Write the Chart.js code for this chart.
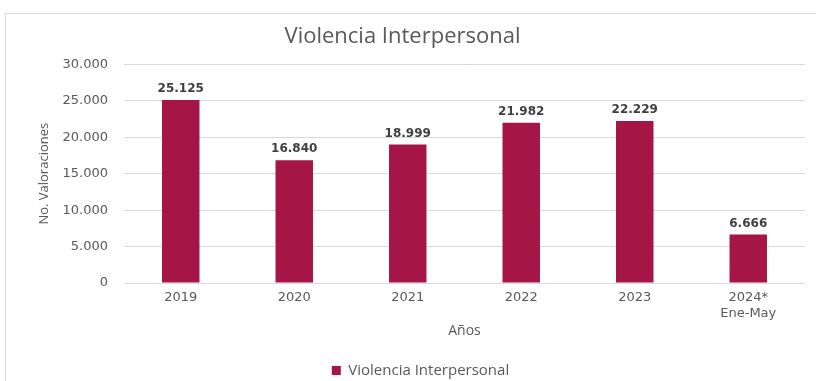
<!DOCTYPE html>
<html>
<head>
<meta charset="utf-8">
<script src="https://cdn.jsdelivr.net/npm/chart.js@4"></script>
<style>
  html,body{margin:0;padding:0;background:#fff;overflow:hidden;}
  #wrap{position:relative;width:816px;height:381px;overflow:hidden;}
</style>
</head>
<body>
<div id="wrap"><canvas id="violenciaChart" width="816" height="388"></canvas></div>
<script>
    const years=[["2019"],["2020"],["2021"],["2022"],["2023"],["2024*","Ene-May"]];
    const valoraciones=[25125,16840,18999,21982,22229,6666];
    const yTicks=[0,5000,10000,15000,20000,25000,30000];

    function fmt(v){
        return String(v).replace(/\B(?=(\d{3})+(?!\d))/g,".");
    }

    // marco gris alrededor del grafico
    const framePlugin={
        id:"frame",
        beforeDraw(chart){
            const c=chart.ctx;
            c.save();
            c.strokeStyle="#d9d9d9";
            c.lineWidth=1;
            c.strokeRect(5.5,13.5,900,500);
            c.restore();
        },
        afterLayout(chart){
            // la leyenda va un poco a la derecha del centro
            chart.legend.left+=18;
            chart.legend.right+=18;
        }
    };

    // etiquetas de valor encima de las barras
    const valueLabels={
        id:"valueLabels",
        afterDatasetsDraw(chart){
            const c=chart.ctx;
            c.save();
            c.font="bold 12px 'DejaVu Sans'";
            c.fillStyle="#404040";
            c.textAlign="center";
            c.textBaseline="bottom";
            chart.getDatasetMeta(0).data.forEach(function(bar,i){
                c.fillText(fmt(valoraciones[i]),bar.x,bar.y-5);
            });
            c.restore();
        }
    };

    const ctx=document.getElementById("violenciaChart").getContext("2d");
    const chart=new Chart(ctx,{
        type:"bar",
        data:{
            labels:years,
            datasets:[{
                label:"Violencia Interpersonal",
                data:valoraciones,
                backgroundColor:"#a51646",
                borderWidth:0,
                categoryPercentage:1,
                barPercentage:0.33,
            }],
        },
        options:{
            responsive:false,
            animation:false,
            layout:{padding:{left:0,right:11,top:0,bottom:0}},
            plugins:{
                title:{
                    display:true,
                    text:"Violencia Interpersonal",
                    color:"#595959",
                    font:{family:"'Open Sans'",size:22,weight:"normal"},
                    padding:{top:24,bottom:14},
                },
                legend:{
                    position:"bottom",
                    labels:{
                        boxWidth:9,
                        boxHeight:9,
                        color:"#595959",
                        font:{family:"'Open Sans'",size:15},
                        padding:2,
                    },
                },
                tooltip:{enabled:false},
            },
            scales:{
                x:{
                    afterFit(scale){
                        scale.height=78;
                    },
                    grid:{display:false,drawTicks:false},
                    border:{display:false},
                    ticks:{
                        color:"#595959",
                        font:{family:"'DejaVu Sans'",size:13},
                        maxRotation:0,
                        padding:7,
                    },
                    title:{
                        display:true,
                        text:"Años",
                        color:"#595959",
                        font:{family:"'Open Sans'",size:14},
                        padding:{top:4,bottom:22},
                    },
                },
                y:{
                    min:0,
                    max:30000,
                    afterBuildTicks(scale){
                        scale.ticks=yTicks.map(function(v){return {value:v};});
                    },
                    afterFit(scale){
                        scale.width=124;
                    },
                    grid:{color:"#d9d9d9",drawTicks:false},
                    border:{display:false},
                    ticks:{
                        color:"#595959",
                        font:{family:"'DejaVu Sans'",size:13},
                        padding:16,
                        callback:function(v){return fmt(v);},
                    },
                    title:{
                        display:true,
                        text:"No. Valoraciones",
                        color:"#595959",
                        font:{family:"'Open Sans'",size:13},
                        padding:{top:36,bottom:10},
                    },
                },
            },
        },
        plugins:[framePlugin,valueLabels],
    });
</script>
</body>
</html>
